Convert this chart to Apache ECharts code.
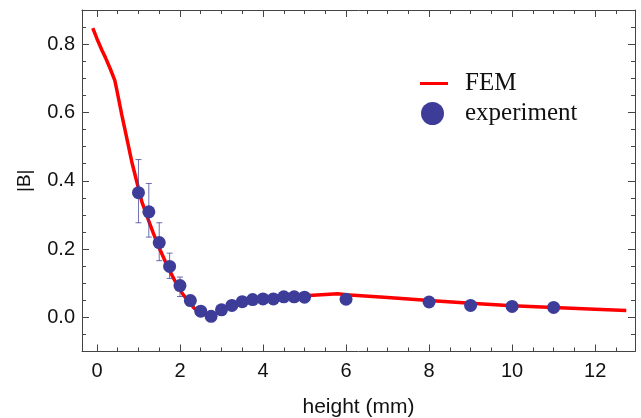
<!DOCTYPE html>
<html>
<head>
<meta charset="utf-8">
<script src="https://cdn.jsdelivr.net/npm/echarts@6/dist/echarts.min.js"></script>
<style>
  html, body { margin: 0; padding: 0; background: #fff; }
  #chart { width: 641px; height: 418px; }
</style>
</head>
<body>
<div id="chart"></div>
<script>
// FEM simulation of |B| versus height above the sample
const femX = [-0.1, 0.0, 0.12, 0.2, 0.32, 0.43, 0.48, 0.6, 0.72, 0.84, 0.96, 1.08, 1.24, 1.36, 1.52, 1.72, 1.92, 2.08, 2.34, 2.6, 2.75, 3.0, 3.25, 3.5, 4.0, 4.5, 5.0, 5.5, 5.8, 6.0, 7.0, 8.0, 9.0, 10.0, 11.0, 12.0, 12.75];
const femY = [0.847, 0.816, 0.782, 0.762, 0.728, 0.694, 0.665, 0.592, 0.524, 0.455, 0.397, 0.339, 0.285, 0.246, 0.198, 0.144, 0.097, 0.066, 0.027, 0.008, 0.004, 0.018, 0.034, 0.046, 0.055, 0.060, 0.063, 0.067, 0.069, 0.066, 0.058, 0.049, 0.041, 0.034, 0.029, 0.024, 0.020];

// measured points
const expX = [1.0, 1.25, 1.5, 1.75, 2.0, 2.25, 2.5, 2.75, 3.0, 3.25, 3.5, 3.75, 4.0, 4.25, 4.5, 4.75, 5.0, 6.0, 8.0, 9.0, 10.0, 11.0];
const expY = [0.365, 0.309, 0.219, 0.149, 0.093, 0.049, 0.018, 0.003, 0.022, 0.035, 0.046, 0.052, 0.054, 0.054, 0.060, 0.060, 0.059, 0.053, 0.045, 0.035, 0.032, 0.029];

// error bars on the first measurements
const errX = [1.0, 1.25, 1.5, 1.75, 2.0];
const errLow = [0.277, 0.235, 0.166, 0.114, 0.061];
const errHigh = [0.462, 0.392, 0.277, 0.188, 0.118];

// axis ticks
const xMajor = [0, 2, 4, 6, 8, 10, 12];
const xMinor = [0.5, 1, 1.5, 2.5, 3, 3.5, 4.5, 5, 5.5, 6.5, 7, 7.5, 8.5, 9, 9.5, 10.5, 11, 11.5, 12.5];
const yMajor = [0, 0.2, 0.4, 0.6, 0.8];
const yMinor = [-0.05, 0.05, 0.1, 0.15, 0.25, 0.3, 0.35, 0.45, 0.5, 0.55, 0.65, 0.7, 0.75, 0.85];

const X_MIN = -0.36, X_MAX = 12.96;
const Y_MIN = -0.1, Y_MAX = 0.9;

const frameColor = '#444';
const sans = 'Liberation Sans, Arial, sans-serif';
const serif = 'Liberation Serif, Times New Roman, serif';
const blue = '#3d3d99';

function xAx(pos, ticks, len, withLabels, showLine) {
  return {
    type: 'value', position: pos, min: X_MIN, max: X_MAX,
    axisLine: { show: showLine, onZero: false, lineStyle: { color: frameColor, width: 1 } },
    axisTick: { show: true, inside: true, length: len, customValues: ticks, lineStyle: { color: frameColor, width: 1 } },
    axisLabel: withLabels ? {
      show: true, customValues: ticks, margin: 10, color: '#111',
      fontFamily: sans, fontSize: 20
    } : { show: false },
    splitLine: { show: false }
  };
}
function yAx(pos, ticks, len, withLabels, showLine) {
  return {
    type: 'value', position: pos, min: Y_MIN, max: Y_MAX,
    axisLine: { show: showLine, onZero: false, lineStyle: { color: frameColor, width: 1 } },
    axisTick: { show: true, inside: true, length: len, customValues: ticks, lineStyle: { color: frameColor, width: 1 } },
    axisLabel: withLabels ? {
      show: true, customValues: ticks, margin: 7, color: '#111',
      fontFamily: sans, fontSize: 20,
      formatter: v => v.toFixed(1)
    } : { show: false },
    splitLine: { show: false }
  };
}

const xAxes = [
  xAx('bottom', xMajor, 7, true, true),
  xAx('bottom', xMinor, 4, false, false),
  xAx('top', xMajor, 7, false, true),
  xAx('top', xMinor, 4, false, false)
];
Object.assign(xAxes[0], {
  name: 'height (mm)', nameLocation: 'middle', nameGap: 45,
  nameTextStyle: { fontFamily: sans, fontSize: 21, color: '#111' }
});
const yAxes = [
  yAx('left', yMajor, 7, true, true),
  yAx('left', yMinor, 4, false, false),
  yAx('right', yMajor, 7, false, true),
  yAx('right', yMinor, 4, false, false)
];
Object.assign(yAxes[0], {
  name: '|B|', nameLocation: 'middle', nameGap: 48, nameRotate: 90,
  nameTextStyle: { fontFamily: sans, fontSize: 19, color: '#111' }
});

const chart = echarts.init(document.getElementById('chart'), null, { renderer: 'canvas' });
chart.setOption({
  animation: false,
  backgroundColor: '#fff',
  grid: { left: 82, right: 6, top: 10, bottom: 66.5, containLabel: false, outerBoundsMode: 'none' },
  xAxis: xAxes,
  yAxis: yAxes,
  legend: [
    {
      data: [{ name: 'FEM', icon: 'rect' }],
      left: 420, top: 71, padding: 0,
      itemWidth: 28, itemHeight: 3, itemGap: 0,
      textStyle: { fontFamily: serif, fontSize: 25, color: '#111', padding: [0, 0, 0, 12] }
    },
    {
      data: [{ name: 'experiment', icon: 'circle' }],
      left: 421, top: 101, padding: 0,
      itemWidth: 23, itemHeight: 23, itemGap: 0,
      textStyle: { fontFamily: serif, fontSize: 25, color: '#111', padding: [0, 0, 0, 16] }
    }
  ],
  series: [
    {
      name: 'FEM', type: 'line',
      data: femX.map((x, i) => [x, femY[i]]),
      symbol: 'none', smooth: false,
      lineStyle: { color: '#ff0000', width: 3.5 },
      itemStyle: { color: '#ff0000' },
      z: 2
    },
    {
      name: 'errors', type: 'custom',
      data: errX.map((x, i) => [x, errLow[i], errHigh[i]]),
      renderItem: function (params, api) {
        const lo = api.coord([api.value(0), api.value(1)]);
        const hi = api.coord([api.value(0), api.value(2)]);
        const cap = 3;
        const style = { stroke: 'rgba(61,61,153,0.75)', lineWidth: 1 };
        return {
          type: 'group',
          children: [
            { type: 'line', shape: { x1: lo[0], y1: lo[1], x2: hi[0], y2: hi[1] }, style: style },
            { type: 'line', shape: { x1: lo[0] - cap, y1: lo[1], x2: lo[0] + cap, y2: lo[1] }, style: style },
            { type: 'line', shape: { x1: hi[0] - cap, y1: hi[1], x2: hi[0] + cap, y2: hi[1] }, style: style }
          ]
        };
      },
      encode: { x: 0, y: [1, 2] },
      z: 3
    },
    {
      name: 'experiment', type: 'scatter',
      data: expX.map((x, i) => [x, expY[i]]),
      symbol: 'circle', symbolSize: 13,
      itemStyle: { color: blue, opacity: 1 },
      z: 4
    }
  ]
});
</script>
</body>
</html>
